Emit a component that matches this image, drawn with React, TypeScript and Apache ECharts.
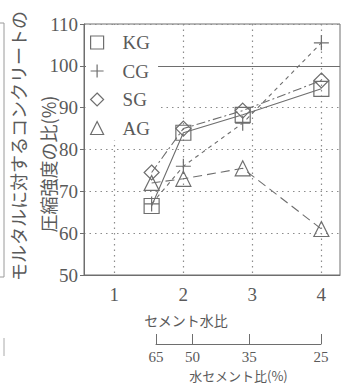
import React, { useEffect, useRef } from 'react';
import * as echarts from 'echarts';

// ---- data ----
const seriesNames = ['KG', 'CG', 'SG', 'AG'];
const cementWaterRatio = [1.54, 2.0, 2.86, 4.0];
const kgValues = [66.5, 84, 88.3, 94.5];
const cgValues = [67, 76, 86.3, 105.5];
const sgValues = [74.5, 85, 89.3, 96.5];
const agValues = [72, 73, 75.5, 61];
const xTickValues = [1, 2, 3, 4];
const referenceLine = 100;
const wcLabels = ['65', '50', '35', '25'];
const wcTickPositions = [1.61, 2.14, 2.96, 4.0];
const yTitleLines = ['モルタルに対するコンクリートの', '圧縮強度の比(%)'];
const xTitle = 'セメント水比';
const wcTitle = '水セメント比(%)';

const INK = '#5a5a5a';
const LINE = '#6e6e6e';
const GRID = '#8c8c8c';
const SERIF = "'Liberation Serif', 'DejaVu Serif', serif";
const CJK = "'Noto Sans CJK JP', sans-serif";

const PLUS = 'path://M5,0L5,10M0,5L10,5';
const symbols = ['rect', PLUS, 'diamond', 'triangle'];
const dashes: any[] = ['solid', [4, 4], [9, 3, 2, 3], [9, 5]];
const values = [kgValues, cgValues, sgValues, agValues];

export default function App() {
  const ref = useRef<HTMLDivElement>(null);
  useEffect(() => {
    if (!ref.current) return;
    const chart = echarts.init(ref.current, undefined, { renderer: 'svg' });
    const dotted = { type: [1.5, 4], color: GRID, width: 1.2 };
    const option: any = {
      animation: false,
      backgroundColor: '#fff',
      grid: [
        { left: 84, top: 24, right: 4, bottom: 110, show: true, borderColor: LINE, borderWidth: 1, backgroundColor: 'transparent' },
        { left: 156, width: 165, top: 343, height: 1, show: false },
      ],
      legend: {
        orient: 'vertical',
        left: 86,
        top: 25,
        z: 20,
        padding: [8, 8, 3, 4],
        backgroundColor: '#fff',
        itemWidth: 13,
        itemHeight: 13,
        itemGap: 9.5,
        data: seriesNames.map((n, i) => ({ name: n, icon: symbols[i] })),
        itemStyle: { color: 'rgba(255,255,255,0)', borderColor: LINE, borderWidth: 1.2 },
        textStyle: { color: INK, fontFamily: SERIF, fontSize: 19, lineHeight: 14, padding: [0, 0, 0, 14] },
      },
      xAxis: [
        {
          type: 'value', gridIndex: 0, min: 0.56, max: 4.27,
          axisLine: { show: true, lineStyle: { color: LINE, width: 1 } },
          axisTick: { show: false, customValues: xTickValues },
          axisLabel: { customValues: xTickValues, color: INK, fontFamily: SERIF, fontSize: 19, margin: 10 },
          splitLine: { show: true, lineStyle: dotted },
          name: xTitle, nameLocation: 'middle', nameGap: 38,
          nameTextStyle: { color: INK, fontFamily: CJK, fontSize: 14, padding: [0, 52, 0, 0] },
        },
        {
          type: 'value', gridIndex: 1, min: 1.61, max: 4.0, position: 'bottom',
          axisLine: { show: true, lineStyle: { color: LINE, width: 1 } },
          axisTick: { show: true, inside: true, length: 10, customValues: wcTickPositions, lineStyle: { color: LINE } },
          axisLabel: {
            customValues: wcTickPositions, color: INK, fontFamily: SERIF, fontSize: 15, lineHeight: 15, margin: 5,
            formatter: (v: number) => {
              const i = wcTickPositions.findIndex((p) => Math.abs(p - v) < 1e-6);
              return i >= 0 ? wcLabels[i] : '';
            },
          },
          splitLine: { show: false },
          name: wcTitle, nameLocation: 'middle', nameGap: 24,
          nameTextStyle: { color: INK, fontFamily: CJK, fontSize: 13, lineHeight: 14 },
        },
      ],
      yAxis: [
        {
          type: 'value', gridIndex: 0, min: 50, max: 110, interval: 10,
          axisLine: { show: true, lineStyle: { color: LINE, width: 1 } },
          axisTick: { show: true, length: 4, lineStyle: { color: LINE } },
          axisLabel: { color: INK, fontFamily: SERIF, fontSize: 19, margin: 6 },
          splitLine: { show: true, lineStyle: dotted },
        },
        { type: 'value', gridIndex: 1, show: false },
      ],
      series: seriesNames.map((name, i) => ({
        type: 'line',
        name,
        xAxisIndex: 0,
        yAxisIndex: 0,
        data: cementWaterRatio.map((x, j) => [x, values[i][j]]),
        symbol: symbols[i],
        symbolSize: 15,
        itemStyle: { color: 'rgba(255,255,255,0)', borderColor: LINE, borderWidth: 1.2 },
        lineStyle: { color: LINE, width: 1.1, type: dashes[i] },
        z: 2,
        markLine: i === 0 ? {
          silent: true, symbol: 'none', label: { show: false }, z: 1,
          lineStyle: { type: 'solid', color: LINE, width: 1 },
          data: [{ yAxis: referenceLine }],
        } : undefined,
      })),
      graphic: [
        {
          type: 'text', x: 18, y: 146, rotation: Math.PI / 2,
          style: { text: yTitleLines[0], fontFamily: CJK, fontSize: 18, fill: INK, align: 'center', verticalAlign: 'middle' },
        },
        {
          type: 'text', x: 48, y: 164, rotation: Math.PI / 2,
          style: { text: yTitleLines[1], fontFamily: CJK, fontSize: 18, fill: INK, align: 'center', verticalAlign: 'middle' },
        },
        {
          type: 'polyline',
          shape: { points: [[0, 23], [4, 23], [4, 277], [0, 277]] },
          style: { stroke: '#9a9a9a', lineWidth: 1, fill: 'none' },
        },
        {
          type: 'line',
          shape: { x1: 4, y1: 338, x2: 4, y2: 356 },
          style: { stroke: '#aaaaaa', lineWidth: 1 },
        },
      ],
    };
    chart.setOption(option);
    return () => chart.dispose();
  }, []);
  return <div ref={ref} style={{ position: 'absolute', left: 0, top: 0, width: 344, height: 385 }} />;
}
